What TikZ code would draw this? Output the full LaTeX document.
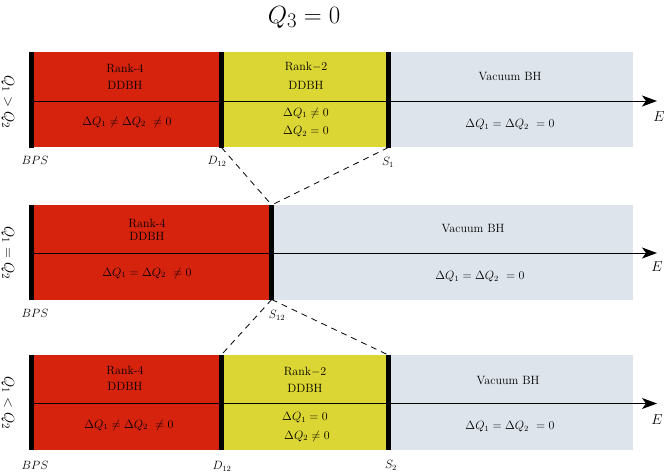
\documentclass[tikz,border=0pt]{standalone}
\usetikzlibrary{arrows.meta}
\definecolor{dred}{RGB}{214,35,14}
\definecolor{dyellow}{RGB}{220,214,52}
\definecolor{dblue}{RGB}{221,228,236}
\tikzset{
  bar/.style={line width=4.6pt},
  axisline/.style={line width=0.95pt,-{Stealth[length=15pt,width=11pt,inset=4pt]}},
  lbl/.style={font=\fontsize{12}{14}\selectfont, inner sep=0pt},
  elbl/.style={font=\fontsize{14}{16}\selectfont, inner sep=0pt},
  side/.style={font=\fontsize{15}{17}\selectfont, rotate=-90, inner sep=0pt},
  conn/.style={line width=0.8pt, dash pattern=on 6pt off 5pt}
}
\begin{document}
\begin{tikzpicture}[x=1pt,y=-1pt]
\useasboundingbox (0,0) rectangle (664,472);
\node[font=\fontsize{30}{34}\selectfont, inner sep=0pt] (title) at (304,17) {$Q_3=0$};

% ---------- top panel ----------
\fill[dred] (30,52) rectangle (221,147);
\fill[dyellow] (221,52) rectangle (388,147);
\fill[dblue] (388,52) rectangle (633,147);
\coordinate (a0) at (31.5,101);
\coordinate (aE) at (657,101);
\draw[axisline] (a0) -- (aE);
\coordinate (tBt) at (31.5,52); \coordinate (tBb) at (31.5,147.5);
\coordinate (tDt) at (221.5,52); \coordinate (tDb) at (221.5,147.5);
\coordinate (tSt) at (388.3,52); \coordinate (tSb) at (388.3,147.5);
\draw[bar] (tBt) -- (tBb);
\draw[bar] (tDt) -- (tDb);
\draw[bar] (tSt) -- (tSb);
\node[lbl] (t1) at (125,68) {Rank-4};
\node[lbl] (t2) at (125,85) {DDBH};
\node[lbl] (t3) at (127,122) {$\Delta Q_1\neq\Delta Q_2\ \neq 0$};
\node[lbl] (t4) at (306,67) {Rank$-$2};
\node[lbl] (t5) at (306,85) {DDBH};
\node[lbl] (t6) at (306,113) {$\Delta Q_1\neq 0$};
\node[lbl] (t7) at (306,132) {$\Delta Q_2 = 0$};
\node[lbl] (t8) at (510,77) {Vacuum BH};
\node[lbl] (t9) at (510,125) {$\Delta Q_1=\Delta Q_2\ =0$};
\node[elbl] (tE) at (659,117) {$E$};
\node[lbl] (tBPS) at (35,160) {$BPS$};
\node[lbl] (tD) at (217,161) {$D_{12}$};
\node[lbl] (tS) at (388,162) {$S_1$};
\node[side] (tside) at (8,102) {$Q_1>Q_2$};

% ---------- middle panel ----------
\fill[dred] (30,205) rectangle (272,299.5);
\fill[dblue] (272,205) rectangle (633,299.5);
\coordinate (m0) at (31.5,253);
\coordinate (mE) at (657,253);
\draw[axisline] (m0) -- (mE);
\coordinate (mBt) at (31.5,205); \coordinate (mBb) at (31.5,299.5);
\coordinate (mSt) at (271.7,205); \coordinate (mSb) at (271.7,299.5);
\draw[bar] (mBt) -- (mBb);
\draw[bar] (mSt) -- (mSb);
\node[lbl] (m1) at (147,223) {Rank-4};
\node[lbl] (m2) at (147,236) {DDBH};
\node[lbl] (m3) at (147,273) {$\Delta Q_1=\Delta Q_2\ \neq 0$};
\node[lbl] (m4) at (473,229) {Vacuum BH};
\node[lbl] (m5) at (480,277) {$\Delta Q_1=\Delta Q_2\ =0$};
\node[elbl] (mE2) at (657,267) {$E$};
\node[lbl] (mBPS) at (35,313) {$BPS$};
\node[lbl] (mS) at (277,315) {$S_{12}$};
\node[side] (mside) at (8,253) {$Q_1=Q_2$};

% ---------- bottom panel ----------
\fill[dred] (30,355) rectangle (221,450);
\fill[dyellow] (221,355) rectangle (388,450);
\fill[dblue] (388,355) rectangle (633,450);
\coordinate (b0) at (31.5,403.5);
\coordinate (bE) at (657,403.5);
\draw[axisline] (b0) -- (bE);
\coordinate (bBt) at (31.5,355); \coordinate (bBb) at (31.5,450);
\coordinate (bDt) at (221.2,355); \coordinate (bDb) at (221.2,450);
\coordinate (bSt) at (388.3,355); \coordinate (bSb) at (388.3,450);
\draw[bar] (bBt) -- (bBb);
\draw[bar] (bDt) -- (bDb);
\draw[bar] (bSt) -- (bSb);
\node[lbl] (b1) at (125,370) {Rank-4};
\node[lbl] (b2) at (125,386) {DDBH};
\node[lbl] (b3) at (129,425) {$\Delta Q_1\neq\Delta Q_2\ \neq 0$};
\node[lbl] (b4) at (305,372) {Rank$-$2};
\node[lbl] (b5) at (305,388) {DDBH};
\node[lbl] (b6) at (305,418) {$\Delta Q_1 = 0$};
\node[lbl] (b7) at (307,436) {$\Delta Q_2\neq 0$};
\node[lbl] (b8) at (508,381) {Vacuum BH};
\node[lbl] (b9) at (510,427) {$\Delta Q_1=\Delta Q_2\ =0$};
\node[elbl] (bE2) at (657,420) {$E$};
\node[lbl] (bBPS) at (35,465) {$BPS$};
\node[lbl] (bD) at (222,466) {$D_{12}$};
\node[lbl] (bS) at (391,465) {$S_2$};
\node[side] (bside) at (8,403) {$Q_1<Q_2$};

% ---------- dashed connectors ----------
\draw[conn] (tDb) -- (mSt);
\draw[conn] (tSb) -- (mSt);
\draw[conn] (mSb) -- (bDt);
\draw[conn] (mSb) -- (bSt);
\end{tikzpicture}
\end{document}
